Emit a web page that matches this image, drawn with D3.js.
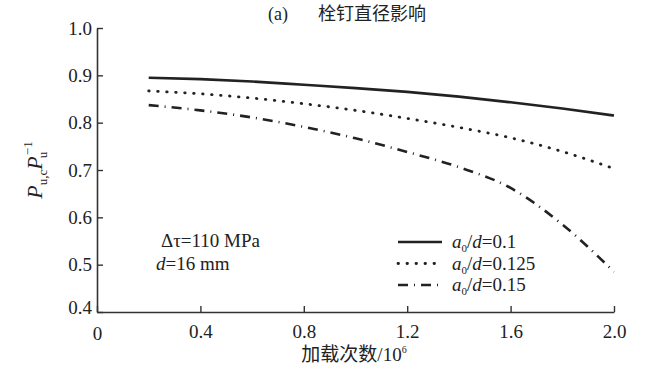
<!DOCTYPE html>
<html>
<head>
<meta charset="utf-8">
<script src="https://cdn.jsdelivr.net/npm/d3@7"></script>
<style>
  body { margin: 0; background: #fff; }
  svg { display: block; }
  text { fill: #222; }
</style>
</head>
<body>
<div id="chart"></div>
<script>
// loading cycles (10^6)
const cycles = [0.2, 0.4, 0.6, 0.8, 1.0, 1.2, 1.4, 1.6, 1.8, 2.0];
// P_u,c / P_u for each a0/d ratio
const ratio010 = [0.895, 0.892, 0.887, 0.880, 0.873, 0.865, 0.855, 0.843, 0.830, 0.815];
const ratio0125 = [0.867, 0.861, 0.852, 0.840, 0.826, 0.809, 0.790, 0.768, 0.739, 0.703];
const ratio015 = [0.837, 0.826, 0.811, 0.791, 0.767, 0.738, 0.706, 0.662, 0.585, 0.485];
const seriesNames = ["0.1", "0.125", "0.15"];
const xTicks = [0, 0.4, 0.8, 1.2, 1.6, 2.0];
const yTicks = [0.4, 0.5, 0.6, 0.7, 0.8, 0.9, 1.0];

const W = 646, H = 370;
const margin = { left: 97, right: 32, top: 28, bottom: 58 };
const serif = "Liberation Serif, Times New Roman, serif";
const cjk = "Noto Sans CJK SC, sans-serif";

const svg = d3.select("#chart").append("svg")
    .attr("width", W).attr("height", H);

const x = d3.scaleLinear().domain([0, 2.0]).range([margin.left, W - margin.right]);
const y = d3.scaleLinear().domain([0.4, 1.0]).range([H - margin.bottom, margin.top]);

// axes, ticks pointing inward
const xAxis = svg.append("g")
    .attr("transform", `translate(0, ${y(0.4)})`)
    .call(d3.axisBottom(x).tickValues(xTicks).tickSize(-6).tickSizeOuter(0)
        .tickPadding(9).tickFormat(d => d === 0 ? "0" : d3.format(".1f")(d)));
const yAxis = svg.append("g")
    .attr("transform", `translate(${x(0)}, 0)`)
    .call(d3.axisLeft(y).tickValues(yTicks).tickSize(-6).tickSizeOuter(0)
        .tickPadding(5).tickFormat(d3.format(".1f")));

[xAxis, yAxis].forEach(g => {
    g.attr("font-family", serif).attr("font-size", 19);
    g.select(".domain").attr("stroke", "#333").attr("stroke-width", 1.6);
    g.selectAll(".tick line").attr("stroke", "#333").attr("stroke-width", 1.4);
    g.selectAll(".tick text").attr("fill", "#333");
});
xAxis.selectAll(".tick text").attr("dy", "0.9em");
yAxis.selectAll(".tick text").attr("dy", "0.32em");
xAxis.selectAll(".tick text").filter(d => d === 0).attr("dy", "1.0em");
yAxis.selectAll(".tick text").filter(d => d === 0.4).attr("dy", "0.1em");

// curves
const styles = [
    { data: ratio010, dash: null, width: 2.6, cap: "butt" },
    { data: ratio0125, dash: "0.5,8.5", width: 2.8, cap: "round" },
    { data: ratio015, dash: "10,6,1,6", width: 2.6, cap: "butt" }
];

const line = d3.line()
    .x(d => x(d[0]))
    .y(d => y(d[1]))
    .curve(d3.curveMonotoneX);

styles.forEach(s => {
    svg.append("path")
        .datum(cycles.map((c, i) => [c, s.data[i]]))
        .attr("d", line)
        .attr("fill", "none")
        .attr("stroke", "#222")
        .attr("stroke-width", s.width)
        .attr("stroke-linecap", s.cap)
        .attr("stroke-dasharray", s.dash);
});

// legend
const legend = svg.append("g").attr("transform", "translate(398, 242)")
    .attr("font-family", serif).attr("font-size", 19);
styles.forEach((s, i) => {
    const gy = i * 21.5;
    legend.append("line")
        .attr("x1", 0).attr("x2", 44).attr("y1", gy).attr("y2", gy)
        .attr("stroke", "#222").attr("stroke-width", s.width)
        .attr("stroke-linecap", s.cap).attr("stroke-dasharray", s.dash);
    const t = legend.append("text")
        .attr("x", 54).attr("y", gy + 6);
    t.append("tspan").attr("font-style", "italic").text("a");
    t.append("tspan").attr("dy", 4).attr("font-size", 11).text("0");
    t.append("tspan").attr("dy", -4).text("/");
    t.append("tspan").attr("font-style", "italic").text("d");
    t.append("tspan").text("=" + seriesNames[i]);
});

// conditions annotation
const notes = svg.append("g").attr("font-family", serif).attr("font-size", 19);
notes.append("text")
    .attr("x", 161).attr("y", 247)
    .text("Δτ=110 MPa");
const dt = notes.append("text")
    .attr("x", 156).attr("y", 270);
dt.append("tspan").attr("font-style", "italic").text("d");
dt.append("tspan").text("=16 mm");

// title
const title = svg.append("text")
    .attr("x", 268).attr("y", 20)
    .attr("font-size", 18);
title.append("tspan").attr("font-family", serif).text("(a)");
title.append("tspan").attr("dx", 30).attr("font-family", cjk).attr("font-size", 18).text("栓钉直径影响");

// x label
const xl = svg.append("text")
    .attr("x", 354).attr("y", 361)
    .attr("text-anchor", "middle")
    .attr("font-size", 19);
xl.append("tspan").attr("font-family", cjk).text("加载次数");
xl.append("tspan").attr("font-family", serif).text("/10");
xl.append("tspan").attr("font-family", serif).attr("font-size", 10).attr("dy", -8).text("6");

// y label
const yl = svg.append("text")
    .attr("transform", `translate(42, ${y(0.7)}) rotate(-90)`)
    .attr("text-anchor", "middle")
    .attr("font-family", serif).attr("font-size", 22);
yl.append("tspan").attr("font-style", "italic").text("P");
yl.append("tspan").attr("dy", 5).attr("font-size", 13).text("u,c");
yl.append("tspan").attr("dy", -5).attr("font-style", "italic").text("P");
yl.append("tspan").attr("dy", -10).attr("dx", 1).attr("font-size", 13).text("−1");
yl.append("tspan").attr("dy", 15).attr("dx", -17).attr("font-size", 13).text("u");
</script>
</body>
</html>
